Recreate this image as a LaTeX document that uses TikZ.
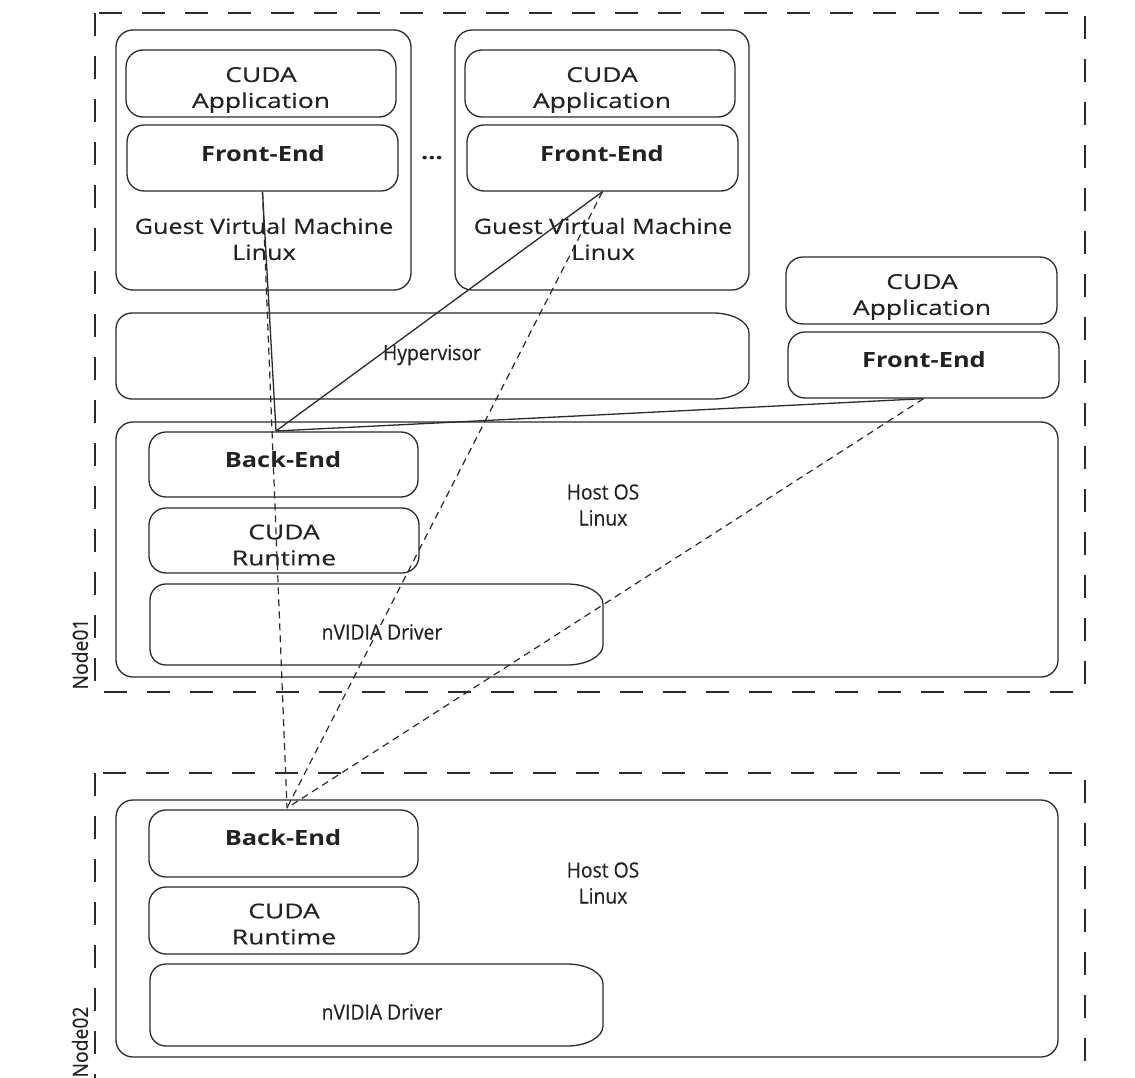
\documentclass[tikz,border=0pt]{standalone}
\usepackage{fontspec}
\setmainfont{Open Sans}
\newfontfamily\fapp[FakeStretch=1.29,FakeBold=0.3]{Open Sans}
\newfontfamily\fguest[FakeStretch=1.2,FakeBold=0.3]{Open Sans}
\newfontfamily\fbold[FakeStretch=1.21]{Open Sans}
\newfontfamily\fcond[FakeStretch=0.92,FakeBold=0.3]{Open Sans}
\usetikzlibrary{calc}
\definecolor{linec}{HTML}{2B2B2B}
\definecolor{textc}{HTML}{222222}
\newcommand{\softbox}[4]{%
  \draw[boxline] (#1+16,#2) -- (#3-36,#2) .. controls (#3-16,#2) and (#3,#2+9) .. (#3,#2+20)
    -- (#3,#4-20) .. controls (#3,#4-9) and (#3-16,#4) .. (#3-36,#4)
    -- (#1+16,#4) .. controls (#1+7,#4) and (#1,#4-7) .. (#1,#4-16)
    -- (#1,#2+16) .. controls (#1,#2+7) and (#1+7,#2) .. (#1+16,#2) -- cycle;}
\begin{document}
\begin{tikzpicture}[x=1pt,y=-1pt,
  box/.style={draw=linec, line width=1.3pt, rounded corners=17pt, inner sep=0pt},
  slot/.style={inner sep=0pt},
  boxline/.style={draw=linec, line width=1.3pt},
  lbl/.style={inner sep=0pt, align=center, text=textc},
  apptxt/.style={lbl, font=\fapp\fontsize{20.5}{26}\selectfont},
  guesttxt/.style={lbl, font=\fguest\fontsize{21}{26}\selectfont},
  boldtxt/.style={lbl, font=\fbold\bfseries\fontsize{21}{26}\selectfont},
  condtxt/.style={lbl, font=\fcond\fontsize{21}{26}\selectfont},
  frame/.style={draw=linec, line width=1.4pt, dash pattern=on 23pt off 20pt},
  link/.style={draw=linec, line width=1.3pt},
  remote/.style={draw=linec, line width=1.2pt, dash pattern=on 7pt off 5pt}]
\useasboundingbox (0,0) rectangle (1135,1078);
\clip (0,0) rectangle (1135,1078);
\fill[white] (0,0) rectangle (1135,1078);

% frames
\draw[frame] (95,13) rectangle (1085,692);
\draw[frame] (95,773) rectangle (1085,1110);
\node[condtxt, rotate=90] (n1lbl) at (80,654) {Node01};
\node[condtxt, rotate=90] (n2lbl) at (80,1042) {Node02};

% guest VM 1
\node[box, minimum width=295, minimum height=260] (gvm1) at (263.5,160) {};
\node[box, minimum width=270, minimum height=67] (app1) at (261,83.5) {};
\node[box, minimum width=271, minimum height=66] (fe1) at (262.5,158) {};
\node[apptxt] (app1t) at (261,90) {CUDA\\Application};
\node[boldtxt] (fe1t) at (263,154) {Front-End};
\node[guesttxt] (gvm1t) at (264,239) {Guest Virtual Machine\\Linux};

\node[boldtxt] (dots) at (432,158) {...};

% guest VM 2
\node[box, minimum width=294, minimum height=260] (gvm2) at (602,160) {};
\node[box, minimum width=270, minimum height=67] (app2) at (600,83.5) {};
\node[box, minimum width=271, minimum height=66] (fe2) at (602.5,158) {};
\node[apptxt] (app2t) at (602,90) {CUDA\\Application};
\node[boldtxt] (fe2t) at (602,154) {Front-End};
\node[guesttxt] (gvm2t) at (603,239) {Guest Virtual Machine\\Linux};

% hypervisor
\softbox{116}{313}{749}{399}
\node[slot, minimum width=633, minimum height=86] (hyp) at (432.5,356) {};
\node[condtxt] (hypt) at (432,355) {Hypervisor};

% native app
\node[box, minimum width=271, minimum height=67] (app3) at (921.5,290.5) {};
\node[box, minimum width=271, minimum height=66] (fe3) at (923.5,365) {};
\node[apptxt] (app3t) at (922,297) {CUDA\\Application};
\node[boldtxt] (fe3t) at (924,360) {Front-End};

% host 1
\node[box, minimum width=942, minimum height=255] (host1) at (587,549.5) {};
\node[box, minimum width=269, minimum height=65] (be1) at (283.5,464.5) {};
\node[box, minimum width=270, minimum height=65] (rt1) at (284,540.5) {};
\softbox{150}{584}{603}{665}
\node[slot, minimum width=453, minimum height=81] (drv1) at (376.5,624.5) {};
\node[boldtxt] (be1t) at (283,460) {Back-End};
\node[apptxt] (rt1t) at (284,545) {CUDA\\Runtime};
\node[condtxt] (drv1t) at (382,632) {nVIDIA Driver};
\node[condtxt] (host1t) at (603,505) {Host OS\\Linux};

% host 2
\node[box, minimum width=942, minimum height=257] (host2) at (587,928.5) {};
\node[box, minimum width=269, minimum height=67] (be2) at (283.5,843.5) {};
\node[box, minimum width=270, minimum height=67] (rt2) at (284,920.5) {};
\softbox{150}{964}{603}{1046}
\node[slot, minimum width=453, minimum height=82] (drv2) at (376.5,1005) {};
\node[boldtxt] (be2t) at (283,838) {Back-End};
\node[apptxt] (rt2t) at (284,924) {CUDA\\Runtime};
\node[condtxt] (drv2t) at (382,1012) {nVIDIA Driver};
\node[condtxt] (host2t) at (603,883) {Host OS\\Linux};

% connectors
\coordinate (j1) at (276,431);
\coordinate (j2) at (287,808);
\draw[link] (fe1.south) -- (j1);
\draw[link] (fe2.south) -- (j1);
\draw[link] (fe3.south) -- (j1);
\draw[remote] (fe1.south) -- (j2);
\draw[remote] (fe2.south) -- (j2);
\draw[remote] (fe3.south) -- (j2);
\end{tikzpicture}
\end{document}
